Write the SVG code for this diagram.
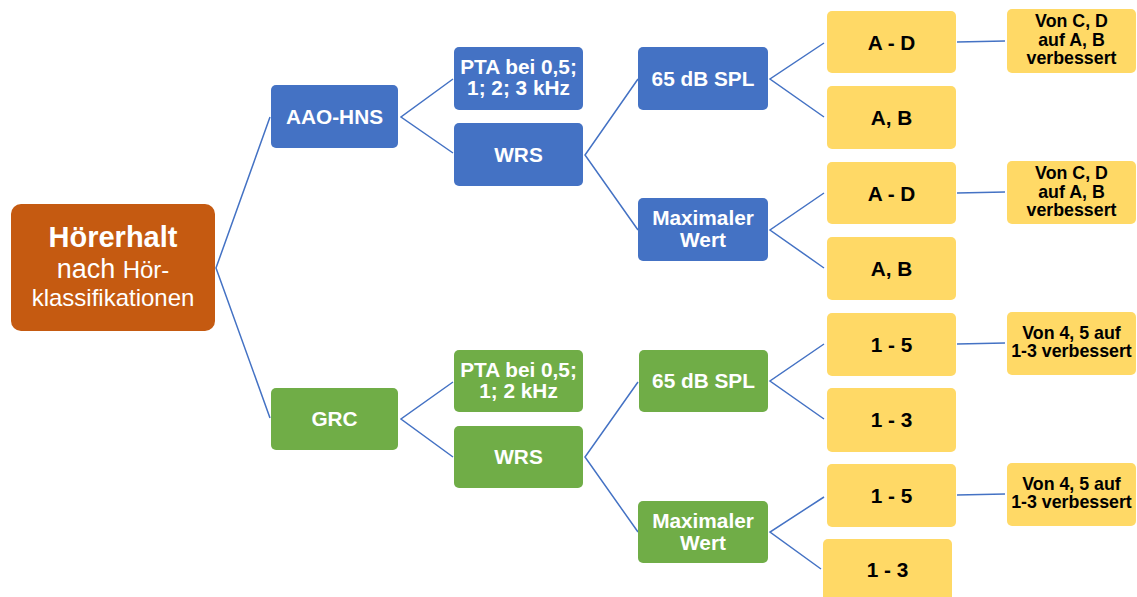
<svg xmlns="http://www.w3.org/2000/svg" width="1137" height="597" viewBox="0 0 1137 597">
<style>
.b{fill:#4472C4}
.g{fill:#70AD47}
.y{fill:#FFD966}
.o{fill:#C55A11}
.t{font-family:"Liberation Sans",Arial,sans-serif;font-weight:bold;font-size:20.8px;fill:#fff;text-anchor:middle}
.k{font-family:"Liberation Sans",Arial,sans-serif;font-weight:bold;font-size:20.8px;fill:#000;text-anchor:middle}
.s{font-family:"Liberation Sans",Arial,sans-serif;font-weight:bold;font-size:17.8px;fill:#000;text-anchor:middle}
.r{font-family:"Liberation Sans",Arial,sans-serif;fill:#fff;text-anchor:middle}
.c{fill:none;stroke:#4472C4;stroke-width:1.5}
</style>
<rect width="1137" height="597" fill="#fff"/>
<g id="connectors" class="c">
<polyline points="270,117 216,268 270,418"/>
<polyline points="453,79 401,117 453,153"/>
<polyline points="638,79 585,155 638,230"/>
<polyline points="824,43 770,79 824,117"/>
<polyline points="824,193 770,230 824,268"/>
<line x1="957" y1="42" x2="1005" y2="41"/>
<line x1="957" y1="193" x2="1005" y2="192"/>
<polyline points="453,382 401,419 453,457"/>
<polyline points="638,382 585,457 638,532"/>
<polyline points="824,344 770,381 824,419"/>
<polyline points="824,497 770,532 821,569"/>
<line x1="957" y1="344" x2="1005" y2="343"/>
<line x1="957" y1="495" x2="1005" y2="494"/>
</g>
<g id="root"><rect class="o" x="11" y="204" width="204" height="127" rx="10"/>
<text class="r" x="113" y="247" font-size="29" font-weight="bold">Hörerhalt</text>
<text class="r" x="113" y="278"><tspan font-size="27">nach </tspan><tspan font-size="24">Hör-</tspan></text>
<text class="r" x="113" y="306" font-size="24">klassifikationen</text></g>
<g id="aao"><rect class="b" x="271" y="85" width="127" height="63" rx="5"/><text class="t" x="334.5" y="123.5">AAO-HNS</text></g>
<g id="pta1"><rect class="b" x="454" y="47" width="129" height="63" rx="5"/><text class="t" x="518.5" y="74">PTA bei 0,5;</text><text class="t" x="518.5" y="95">1; 2; 3 kHz</text></g>
<g id="wrs1"><rect class="b" x="454" y="123" width="129" height="63" rx="5"/><text class="t" x="518.5" y="161.5">WRS</text></g>
<g id="spl1"><rect class="b" x="638" y="47" width="130" height="63" rx="5"/><text class="t" x="703" y="85.5">65 dB SPL</text></g>
<g id="max1"><rect class="b" x="638" y="198" width="130" height="63" rx="5"/><text class="t" x="703" y="225">Maximaler</text><text class="t" x="703" y="247">Wert</text></g>
<g id="ad1"><rect class="y" x="827" y="11" width="129" height="62" rx="5"/><text class="k" x="891.5" y="49.5">A - D</text></g>
<g id="ab1"><rect class="y" x="827" y="86" width="129" height="63" rx="5"/><text class="k" x="891.5" y="124.5">A, B</text></g>
<g id="von1"><rect class="y" x="1007" y="9" width="129" height="64" rx="5"/><text class="s" x="1071.5" y="27">Von C, D</text><text class="s" x="1071.5" y="45.5">auf A, B</text><text class="s" x="1071.5" y="64">verbessert</text></g>
<g id="ad2"><rect class="y" x="827" y="162" width="129" height="62" rx="5"/><text class="k" x="891.5" y="200.5">A - D</text></g>
<g id="ab2"><rect class="y" x="827" y="237" width="129" height="63" rx="5"/><text class="k" x="891.5" y="275.5">A, B</text></g>
<g id="von2"><rect class="y" x="1007" y="161" width="129" height="63" rx="5"/><text class="s" x="1071.5" y="179">Von C, D</text><text class="s" x="1071.5" y="197.5">auf A, B</text><text class="s" x="1071.5" y="216">verbessert</text></g>
<g id="grc"><rect class="g" x="271" y="388" width="127" height="62" rx="5"/><text class="t" x="334.5" y="426">GRC</text></g>
<g id="pta2"><rect class="g" x="454" y="350" width="129" height="62" rx="5"/><text class="t" x="518.5" y="377">PTA bei 0,5;</text><text class="t" x="518.5" y="398">1; 2 kHz</text></g>
<g id="wrs2"><rect class="g" x="454" y="426" width="129" height="62" rx="5"/><text class="t" x="518.5" y="464">WRS</text></g>
<g id="spl2"><rect class="g" x="639" y="350" width="129" height="62" rx="5"/><text class="t" x="703.5" y="388">65 dB SPL</text></g>
<g id="max2"><rect class="g" x="638" y="501" width="130" height="62" rx="5"/><text class="t" x="703" y="528">Maximaler</text><text class="t" x="703" y="550">Wert</text></g>
<g id="n15a"><rect class="y" x="827" y="313" width="129" height="63" rx="5"/><text class="k" x="891.5" y="351.5">1 - 5</text></g>
<g id="n13a"><rect class="y" x="827" y="388" width="129" height="64" rx="5"/><text class="k" x="891.5" y="427">1 - 3</text></g>
<g id="von3"><rect class="y" x="1007" y="312" width="129" height="63" rx="5"/><text class="s" x="1071.5" y="339">Von 4, 5 auf</text><text class="s" x="1071.5" y="357">1-3 verbessert</text></g>
<g id="n15b"><rect class="y" x="827" y="464" width="129" height="63" rx="5"/><text class="k" x="891.5" y="502.5">1 - 5</text></g>
<g id="von4"><rect class="y" x="1007" y="463" width="129" height="63" rx="5"/><text class="s" x="1071.5" y="490">Von 4, 5 auf</text><text class="s" x="1071.5" y="508">1-3 verbessert</text></g>
<g id="n13b"><rect class="y" x="823" y="539" width="129" height="64" rx="5"/><text class="k" x="887.5" y="577">1 - 3</text></g>
</svg>
